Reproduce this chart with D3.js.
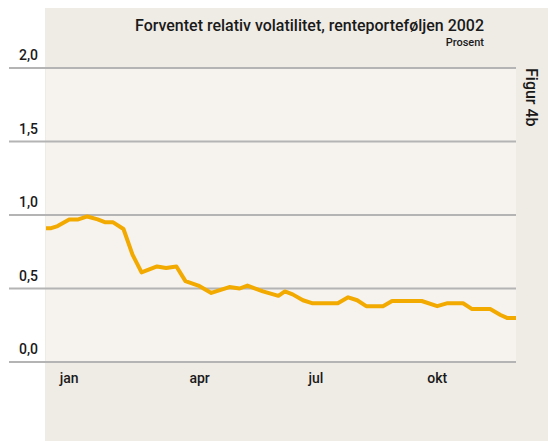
<!DOCTYPE html>
<html>
<head>
<meta charset="utf-8">
<script src="https://cdn.jsdelivr.net/npm/d3@7"></script>
<style>
  body { margin: 0; background: #fff; }
  svg text { font-family: Roboto, "Noto Sans", sans-serif; font-weight: 500; fill: #1a1a1a; }
</style>
</head>
<body>
<svg class="chart" width="548" height="441"></svg>
<script>
var dates = ["2002-01-01","2002-01-05","2002-01-10","2002-01-19","2002-01-26","2002-02-02","2002-02-10","2002-02-16",
  "2002-02-22","2002-03-02","2002-03-09","2002-03-16","2002-03-28","2002-04-04","2002-04-12","2002-04-19",
  "2002-04-29","2002-05-09","2002-05-23","2002-05-31","2002-06-06","2002-06-18","2002-06-30","2002-07-05",
  "2002-07-11","2002-07-19","2002-07-26","2002-08-15","2002-08-23","2002-08-30","2002-09-06","2002-09-19",
  "2002-09-26","2002-10-19","2002-10-31","2002-11-08","2002-11-20","2002-11-27","2002-12-11","2002-12-19",
  "2002-12-24","2002-12-31"];
var values = [0.91,0.91,0.925,0.97,0.97,0.99,0.97,0.95,
  0.95,0.905,0.73,0.61,0.65,0.64,0.65,0.55,
  0.52,0.47,0.51,0.50,0.52,0.48,0.45,0.48,
  0.46,0.42,0.40,0.40,0.44,0.42,0.38,0.38,
  0.415,0.415,0.38,0.40,0.40,0.36,0.36,0.32,
  0.30,0.30];
var yTicks = [0, 0.5, 1.0, 1.5, 2.0];
var monthLabels = ["jan", "apr", "jul", "okt"];
var monthLabelDates = ["2002-01-19", "2002-04-30", "2002-07-29", "2002-10-31"];

var title = "Forventet relativ volatilitet, renteporteføljen 2002";
var unit = "Prosent";
var figLabel = "Figur 4b";

var parseDate = d3.timeParse("%Y-%m-%d");
var data = dates.map(function(d, i) { return {date: parseDate(d), value: values[i]}; });

var svg = d3.select(".chart");
var plot = {left: 46, right: 516, top: 68, bottom: 362};

var x = d3.scaleTime()
    .domain([parseDate("2002-01-01"), parseDate("2002-12-31")])
    .range([plot.left, plot.right]);
var y = d3.scaleLinear().domain([0, 2]).range([plot.bottom, plot.top]);

// outer panel and plot background
svg.append("rect").attr("x", 45).attr("y", 8).attr("width", 503).attr("height", 433).attr("fill", "#efece6");
svg.append("rect")
    .attr("x", plot.left).attr("y", plot.top)
    .attr("width", plot.right - plot.left).attr("height", plot.bottom - plot.top)
    .attr("fill", "#f6f3ef");

// gridlines
svg.append("g").selectAll("line")
    .data(yTicks)
  .enter().append("line")
    .attr("x1", 9).attr("x2", plot.right)
    .attr("y1", function(d) { return y(d); })
    .attr("y2", function(d) { return y(d); })
    .attr("stroke", "#b4b4b4")
    .attr("stroke-width", 2);

// y labels
var fmt = function(d) { return d3.format(".1f")(d).replace(".", ","); };
svg.append("g").selectAll("text")
    .data(yTicks)
  .enter().append("text")
    .attr("x", 38)
    .attr("y", function(d) { return y(d) - 8; })
    .attr("text-anchor", "end")
    .style("font-size", "14px")
    .text(fmt);

// x labels
svg.append("g").selectAll("text")
    .data(monthLabels)
  .enter().append("text")
    .attr("x", function(d, i) { return x(parseDate(monthLabelDates[i])); })
    .attr("y", 383)
    .attr("text-anchor", "middle")
    .style("font-size", "14px")
    .text(function(d) { return d; });

// the line
var line = d3.line()
    .x(function(d) { return x(d.date); })
    .y(function(d) { return y(d.value); });

svg.append("path")
    .datum(data)
    .attr("fill", "none")
    .attr("stroke", "#f2a900")
    .attr("stroke-width", 4)
    .attr("stroke-linejoin", "round")
    .attr("d", line);

// titles
svg.append("text")
    .attr("x", 484).attr("y", 31)
    .attr("text-anchor", "end")
    .attr("textLength", 349)
    .attr("lengthAdjust", "spacingAndGlyphs")
    .style("font-size", "17px")
    .text(title);

svg.append("text")
    .attr("x", 484).attr("y", 46)
    .attr("text-anchor", "end")
    .style("font-size", "11px")
    .text(unit);

svg.append("text")
    .attr("transform", "translate(526,68) rotate(90)")
    .style("font-size", "16px")
    .text(figLabel);
</script>
</body>
</html>
